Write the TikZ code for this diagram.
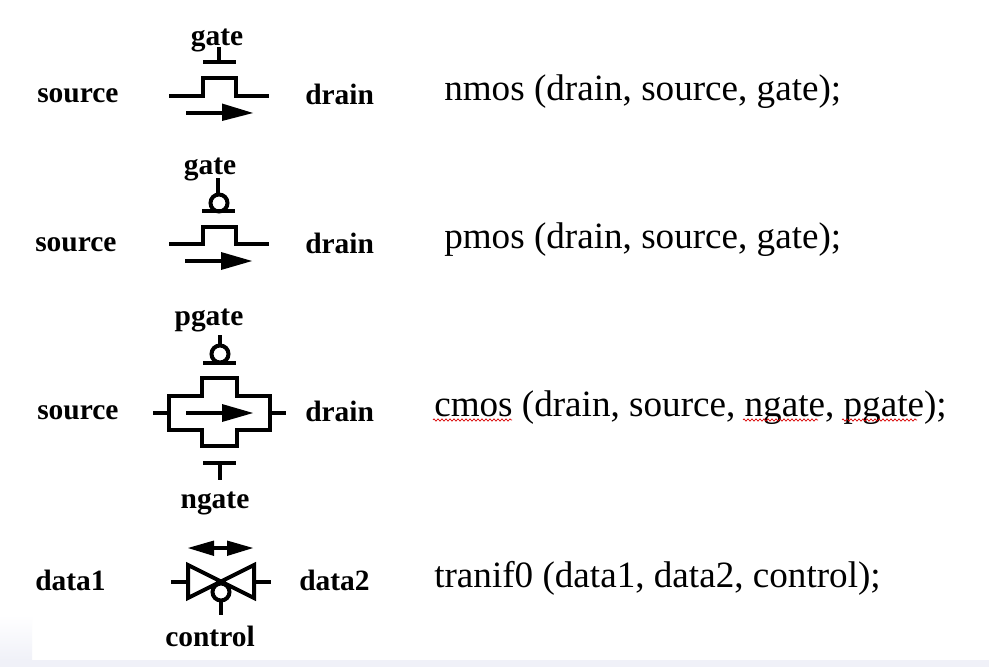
\documentclass[tikz,border=0pt]{standalone}
\usepackage{fontspec}
\setmainfont{Liberation Serif}
\usetikzlibrary{decorations.pathmorphing}
\definecolor{strip}{HTML}{F0F1F8}
\tikzset{
  x=0.75pt,y=-0.75pt,
  wire/.style={line width=3pt,line join=miter,line cap=butt,black},
  headfill/.style={fill=black,draw=none},
  lab/.style={font=\fontsize{22.1pt}{24pt}\bfseries\selectfont,inner sep=0pt,anchor=base west},
  labc/.style={font=\fontsize{22.1pt}{24pt}\bfseries\selectfont,inner sep=0pt,anchor=base},
  code/.style={font=\fontsize{27.85pt}{30pt}\selectfont,inner sep=0pt,anchor=base west},
  squig/.style={draw=red!85!black,line width=0.5pt,decorate,decoration={zigzag,amplitude=0.9pt,segment length=3pt}}
}
\begin{document}
\begin{tikzpicture}
\useasboundingbox (0,0) rectangle (989,667);
\fill[white] (0,0) rectangle (989,667);
\shade[top color=white,bottom color=strip] (0,615) rectangle (32,660);
\fill[strip] (0,660) rectangle (989,667);

% row 1
\node[labc] (g1) at (217,46) {gate};
\node[lab] (s1) at (37,103) {source};
\node[lab] (d1) at (305,104) {drain};
\node[code] (c1) at (444,100.5) {nmos (drain, source, gate);};
\draw[wire] (219,47) -- (219,62);
\draw[wire] (203,62) -- (236,62);
\draw[wire] (169,96) -- (202.5,96) -- (202.5,78) -- (236,78) -- (236,96) -- (269,96);
\draw[wire] (186,113) -- (223,113);
\fill[headfill] (222,103.5) -- (253,113) -- (222,121) -- cycle;

% row 2
\node[labc] (g2) at (210,174) {gate};
\node[lab] (s2) at (35,251) {source};
\node[lab] (d2) at (305,253) {drain};
\node[code] (c2) at (444,248.5) {pmos (drain, source, gate);};
\draw[wire] (218,178) -- (218,195);
\draw[wire] (219,203) circle (8.5);
\draw[wire] (202,211) -- (235,211);
\draw[wire] (169,244) -- (202.5,244) -- (202.5,227) -- (236,227) -- (236,244) -- (269,244);
\draw[wire] (185,261) -- (222,261);
\fill[headfill] (221,252) -- (252,261) -- (221,270) -- cycle;

% row 3
\node[labc] (g3) at (209,325) {pgate};
\node[lab] (s3) at (37,419) {source};
\node[lab] (d3) at (305,421) {drain};
\node[labc] (g4) at (215,508) {ngate};
\node[code] (c3) at (434,416.5) {cmos (drain, source, ngate, pgate);};
\draw[squig] (433,420) -- (512,420);
\draw[squig] (743,420) -- (818,420);
\draw[squig] (842,420) -- (917,420);
\draw[wire] (220,335) -- (220,346);
\draw[wire] (220,354) circle (8.5);
\draw[wire] (203,363) -- (236,363);
\draw[wire] (202,396) -- (202,378) -- (237,378) -- (237,396) -- (270,396) -- (270,430) -- (237,430) -- (237,446) -- (202,446) -- (202,430) -- (169,430) -- (169,396) -- cycle;
\draw[wire] (153,413) -- (169,413);
\draw[wire] (270,413) -- (286,413);
\draw[wire] (186,413) -- (223,413);
\fill[headfill] (222,404) -- (253,413) -- (222,422) -- cycle;
\draw[wire] (203,463) -- (236,463);
\draw[wire] (220,463) -- (220,480);

% row 4
\node[lab] (s4) at (35,590) {data1};
\node[lab] (d4) at (299,590) {data2};
\node[labc] (g5) at (210,646) {control};
\node[code] (c4) at (434,587.5) {tranif0 (data1, data2, control);};
\draw[wire] (213,548) -- (228,548);
\fill[headfill] (188,548) -- (214,540.5) -- (214,556) -- cycle;
\fill[headfill] (253,548) -- (227,540.5) -- (227,556) -- cycle;
\draw[wire] (188,565) -- (254,598) -- (254,565) -- (188,598) -- cycle;
\draw[wire] (171,582) -- (188,582);
\draw[wire] (254,582) -- (271,582);
\draw[wire,fill=white] (221,592) circle (8.5);
\draw[wire] (221,600) -- (221,615);
\end{tikzpicture}
\end{document}
